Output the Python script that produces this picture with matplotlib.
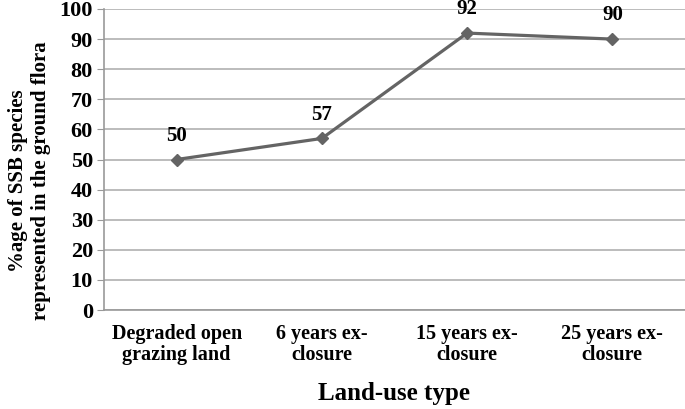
import matplotlib
matplotlib.use("Agg")
import matplotlib.pyplot as plt

categories = ["Degraded open\ngrazing land", "6 years ex-\nclosure",
              "15 years ex-\nclosure", "25 years ex-\nclosure"]
values = [50, 57, 92, 90]
y_ticks = list(range(0, 101, 10))

plt.rcParams['font.family'] = ['Liberation Serif', 'DejaVu Serif']
plt.rcParams['font.weight'] = 'bold'

fig = plt.figure(figsize=(6.85, 4.09), dpi=100)
ax = fig.add_axes([104 / 685, 1 - 310 / 409, 581 / 685, 301 / 409])

x = list(range(len(categories)))
ax.plot(x, values, color='#646464', linewidth=2.3, marker='D', markersize=6,
        zorder=3, clip_on=False)
for xi, v in zip(x, values):
    ax.annotate(str(v), (xi, v), xytext=(0, 17), textcoords='offset points',
                ha='center', va='center', fontsize=15, fontweight='bold')

ax.set_xlim(-0.5, len(categories) - 0.5)
ax.set_ylim(0, 100)
ax.set_yticks(y_ticks)
ax.set_xticks(x)
ax.set_xticklabels(categories, fontsize=14.5, fontweight='bold', linespacing=1.1)
ax.tick_params(axis='y', labelsize=16, length=5, color='#999999', pad=3)
ax.tick_params(axis='x', length=0, pad=10)
ax.grid(axis='y', color='#b0b0b0', linewidth=1.2)
ax.set_axisbelow(True)
for s in ['top', 'right']:
    ax.spines[s].set_visible(False)
ax.spines['left'].set_color('#999999')
ax.spines['bottom'].set_color('#999999')
ax.spines['left'].set_linewidth(1.2)
ax.spines['bottom'].set_linewidth(1.2)

ax.set_xlabel("Land-use type", fontsize=18, fontweight='bold', labelpad=12)
ax.set_ylabel("%age of SSB species\nrepresented in the ground flora",
              fontsize=15, fontweight='bold', linespacing=1.2)
ax.yaxis.set_label_coords(-0.092, 0.43)

fig.savefig("out.png", dpi=100)
